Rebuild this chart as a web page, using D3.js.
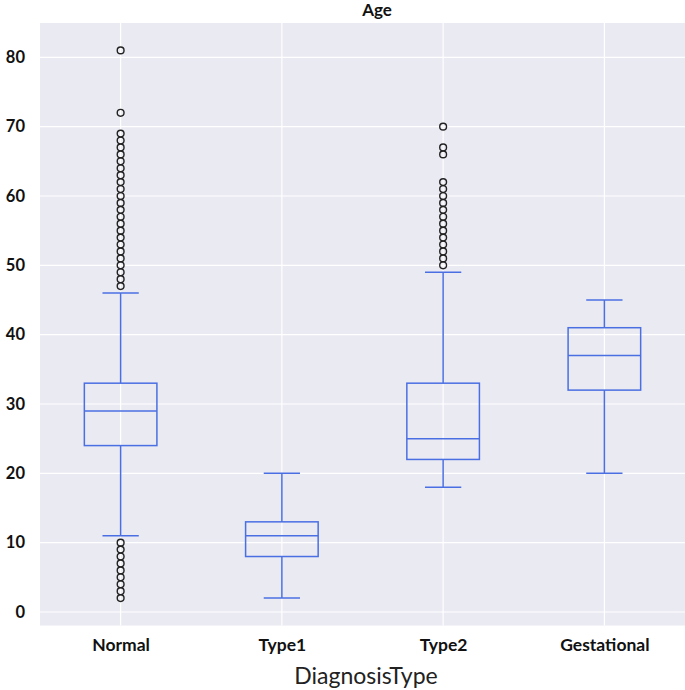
<!DOCTYPE html>
<html>
<head>
<meta charset="utf-8">
<script src="https://cdn.jsdelivr.net/npm/d3@7"></script>
<style>
  body { margin: 0; background: #fff; }
  text { font-family: Lato, "Open Sans", sans-serif; }
</style>
</head>
<body>
<div id="chart"></div>
<script>
  var categories = ["Normal", "Type1", "Type2", "Gestational"];
  // five-number summaries: low whisker, Q1, median, Q3, high whisker
  var whiskLow = [11, 2, 18, 20];
  var q1 = [24, 8, 22, 32];
  var median = [29, 11, 25, 37];
  var q3 = [33, 13, 33, 41];
  var whiskHigh = [46, 20, 49, 45];
  var outliers = [
    [2, 3, 4, 5, 6, 7, 8, 9, 10, 47, 48, 49, 50, 51, 52, 53, 54, 55, 56, 57, 58, 59, 60,
     61, 62, 63, 64, 65, 66, 67, 68, 69, 72, 81],
    [],
    [50, 51, 52, 53, 54, 55, 56, 57, 58, 59, 60, 61, 62, 66, 67, 70],
    []
  ];
  var yTicks = [0, 10, 20, 30, 40, 50, 60, 70, 80];

  var width = 685, height = 690;
  var margin = {top: 23, right: 0, bottom: 64.5, left: 40};
  var boxColor = "#4a6fe3";

  var svg = d3.select("#chart").append("svg")
      .attr("width", width)
      .attr("height", height);

  var x = d3.scalePoint()
      .domain(categories)
      .range([margin.left, width - margin.right])
      .padding(0.5);
  var step = x.step();

  var y = d3.scaleLinear()
      .domain([-1.95, 84.95])
      .range([height - margin.bottom, margin.top]);

  // plot background
  svg.append("rect")
    .attr("x", margin.left)
    .attr("y", margin.top)
    .attr("width", width - margin.left - margin.right)
    .attr("height", height - margin.top - margin.bottom)
    .attr("fill", "#eaeaf2");

  // grid
  svg.selectAll("line.hgrid")
    .data(yTicks)
    .enter()
      .append("line")
      .attr("class", "hgrid")
      .attr("x1", margin.left)
      .attr("x2", width - margin.right)
      .attr("y1", function(d){ return y(d); })
      .attr("y2", function(d){ return y(d); })
      .attr("stroke", "#fff")
      .attr("stroke-width", 1.2);

  svg.selectAll("line.vgrid")
    .data(categories)
    .enter()
      .append("line")
      .attr("class", "vgrid")
      .attr("x1", function(d){ return x(d); })
      .attr("x2", function(d){ return x(d); })
      .attr("y1", margin.top)
      .attr("y2", height - margin.bottom)
      .attr("stroke", "#fff")
      .attr("stroke-width", 1.2);

  // axes
  var yAxis = svg.append("g")
      .attr("transform", "translate(" + (margin.left - 12) + ",0)")
      .call(d3.axisLeft(y).tickValues(yTicks).tickSize(0));
  yAxis.select(".domain").remove();
  yAxis.selectAll("text")
      .attr("font-size", 16.5)
      .attr("font-weight", "bold")
      .attr("fill", "#111");

  var xAxis = svg.append("g")
      .attr("transform", "translate(0," + (height - margin.bottom + 10) + ")")
      .call(d3.axisBottom(x).tickSize(0));
  xAxis.select(".domain").remove();
  xAxis.selectAll("text")
      .attr("font-size", 17.5)
      .attr("font-weight", "bold")
      .attr("fill", "#111");

  // title and axis label
  svg.append("text")
    .attr("x", 377)
    .attr("y", 16)
    .attr("text-anchor", "middle")
    .attr("font-size", 17)
    .attr("font-weight", "bold")
    .attr("fill", "#111")
    .text("Age");

  svg.append("text")
    .attr("x", 366)
    .attr("y", 684)
    .attr("text-anchor", "middle")
    .attr("font-size", 23)
    .attr("fill", "#222")
    .text("DiagnosisType");

  // boxes
  var boxW = step * 0.45;
  var capW = boxW / 2;
  var g = svg.append("g")
      .attr("stroke", boxColor)
      .attr("stroke-width", 1.5)
      .attr("fill", "none");

  categories.forEach(function(c, i){
    var cx = x(c);
    // whiskers
    g.append("line").attr("x1", cx).attr("x2", cx).attr("y1", y(q3[i])).attr("y2", y(whiskHigh[i]));
    g.append("line").attr("x1", cx).attr("x2", cx).attr("y1", y(q1[i])).attr("y2", y(whiskLow[i]));
    // caps
    g.append("line").attr("x1", cx - capW / 2).attr("x2", cx + capW / 2).attr("y1", y(whiskHigh[i])).attr("y2", y(whiskHigh[i]));
    g.append("line").attr("x1", cx - capW / 2).attr("x2", cx + capW / 2).attr("y1", y(whiskLow[i])).attr("y2", y(whiskLow[i]));
    // box
    g.append("rect")
      .attr("x", cx - boxW / 2)
      .attr("y", y(q3[i]))
      .attr("width", boxW)
      .attr("height", y(q1[i]) - y(q3[i]));
    // median
    g.append("line").attr("x1", cx - boxW / 2).attr("x2", cx + boxW / 2).attr("y1", y(median[i])).attr("y2", y(median[i]));

    // fliers
    svg.selectAll("circle.f" + i)
      .data(outliers[i])
      .enter()
        .append("circle")
        .attr("class", "f" + i)
        .attr("cx", cx)
        .attr("cy", function(d){ return y(d); })
        .attr("r", 3.4)
        .attr("fill", "none")
        .attr("stroke", "#222")
        .attr("stroke-width", 1.4);
  });
</script>
</body>
</html>
